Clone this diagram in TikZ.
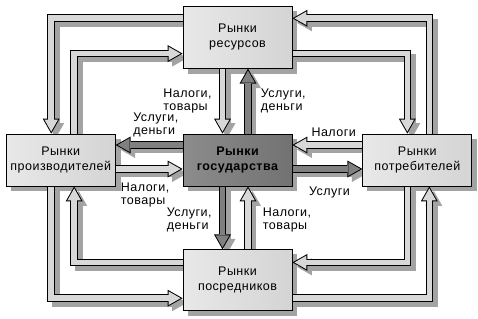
\documentclass[tikz,border=0pt]{standalone}
\usepackage{fontspec}
\setmainfont{Liberation Sans}[LetterSpace=4]
\usepackage{xcolor}
\usetikzlibrary{arrows.meta,positioning,calc,backgrounds}
\definecolor{paper}{HTML}{E8E8E8}
\definecolor{paperdk}{HTML}{D4D4D4}
\definecolor{govgray}{HTML}{8C8C8C}
\definecolor{govgraydk}{HTML}{727272}
\definecolor{shadowgray}{HTML}{A3A3A3}
\definecolor{flowlight}{HTML}{D8D8D8}
\definecolor{flowdark}{HTML}{808080}
\pgfdeclarelayer{front}
\pgfsetlayers{background,main,front}
\tikzset{
  marketbox/.style={
    rectangle, draw=black, line width=0.8pt,
    left color=paper, right color=paperdk,
    minimum width=109pt, minimum height=52pt,
    font=\fontsize{12.5}{15}\selectfont, align=center,
    inner sep=2pt
  },
  govbox/.style={
    marketbox, left color=govgray, right color=govgraydk,
    font=\fontsize{12.5}{15}\selectfont\bfseries
  },
  boxshadow/.style={fill=shadowgray},
  flowarrow/.style={
    draw=#1, line width=5.6pt, shorten >=2pt,
    -{Triangle[length=12pt, width=13.6pt, line width=0pt]},
    preaction={draw=shadowgray, line width=7.6pt, shorten >=0pt,
      -{Triangle[length=15pt, width=17pt, line width=0pt]},
      transform canvas={shift={(4.5pt,-4.5pt)}}},
    preaction={draw=black, line width=7.6pt, shorten >=0pt,
      -{Triangle[length=15pt, width=17pt, line width=0pt]}}
  },
  flowarrow/.default=flowlight,
  flowlabel/.style={
    font=\fontsize{12.5}{13.5}\selectfont, align=left, inner sep=2pt
  },
}
\begin{document}
\begin{tikzpicture}
\useasboundingbox (0,0) rectangle (478pt,-318pt);

% Markets
\begin{pgfonlayer}{front}
\node[govbox] (gov) at (237.5pt,-160pt) {Рынки\\государства};
\node[marketbox, minimum height=62pt, above=65pt of gov] (res) {Рынки\\ресурсов};
\node[marketbox, minimum height=61pt, below=63pt of gov] (mid) {Рынки\\посредников};
\node[marketbox, left=67pt of gov] (prod) {Рынки\\производителей};
\node[marketbox, right=70pt of gov] (cons) {Рынки\\потребителей};
\end{pgfonlayer}

% Box shadows
\begin{scope}[on background layer]
  \foreach \m in {res,prod,gov,cons,mid}
    \fill[boxshadow] ($(\m.south west)+(5pt,-5pt)$) rectangle ($(\m.north east)+(5pt,-5pt)$);
\end{scope}

% Outer ring
\draw[flowarrow] ($(cons.north)+(12pt,0)$) |- ($(res.north east)+(0,-12.5pt)$);
\draw[flowarrow] ($(res.south east)+(0,15pt)$) -| ($(cons.north)+(-10pt,0)$);
\draw[flowarrow] ($(prod.north)+(13.5pt,0)$) |- ($(res.south west)+(0,15pt)$);
\draw[flowarrow] ($(res.north west)+(0,-12.5pt)$) -| ($(prod.north)+(-9.5pt,0)$);
\draw[flowarrow] ($(prod.south)+(-9.5pt,0)$) |- ($(mid.south west)+(0,13pt)$);
\draw[flowarrow] ($(mid.north west)+(0,-13pt)$) -| ($(prod.south)+(13.5pt,0)$);
\draw[flowarrow] ($(cons.south)+(-10pt,0)$) |- ($(mid.north east)+(0,-13pt)$);
\draw[flowarrow] ($(mid.south east)+(0,13pt)$) -| ($(cons.south)+(12pt,0)$);

% Flows to and from the state
\draw[flowarrow] ($(res.south)+(-15pt,0)$) -- ($(gov.north)+(-15pt,0)$)
  node[flowlabel, midway, left=6pt] {Налоги,\\товары};
\draw[flowarrow=flowdark] ($(gov.north)+(10.5pt,0)$) -- ($(res.south)+(10.5pt,0)$)
  node[flowlabel, midway, right=8pt] {Услуги,\\деньги};
\draw[flowarrow=flowdark] ($(gov.west)+(0,15pt)$) -- ($(prod.east)+(0,15pt)$)
  node[flowlabel, pos=0.4, above=3pt] {Услуги,\\деньги};
\draw[flowarrow] ($(prod.east)+(0,-9pt)$) -- ($(gov.west)+(0,-9pt)$)
  node[flowlabel, pos=0.44, below=9pt] {Налоги,\\товары};
\draw[flowarrow] ($(cons.west)+(0,15pt)$) -- ($(gov.east)+(0,15pt)$)
  node[flowlabel, pos=0.41, above=4pt] {Налоги};
\draw[flowarrow=flowdark] ($(gov.east)+(0,-9pt)$) -- ($(cons.west)+(0,-9pt)$)
  node[flowlabel, pos=0.53, below=13pt] {Услуги};
\draw[flowarrow=flowdark] ($(gov.south)+(-15pt,0)$) -- ($(mid.north)+(-15pt,0)$)
  node[flowlabel, midway, left=6pt, yshift=-2pt] {Услуги,\\деньги};
\draw[flowarrow] ($(mid.north)+(10.5pt,0)$) -- ($(gov.south)+(10.5pt,0)$)
  node[flowlabel, midway, right=10pt, yshift=-2pt] {Налоги,\\товары};

\end{tikzpicture}
\end{document}
